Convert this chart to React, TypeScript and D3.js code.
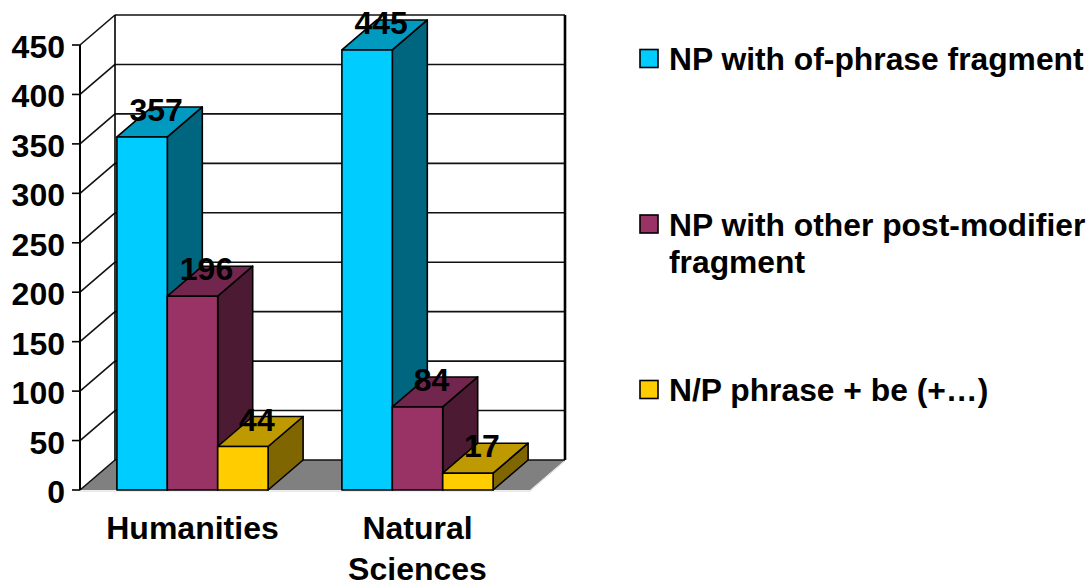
import React from "react";
import * as d3 from "d3";

// Categories and their wrapped axis labels
const categories = ["Humanities", "Natural Sciences"];
const categoryLines = [["Humanities"], ["Natural", "Sciences"]];

// Series
const seriesNames = [
  "NP with of-phrase fragment",
  "NP with other post-modifier fragment",
  "N/P phrase + be (+…)",
];
const legendLines = [
  ["NP with of-phrase fragment"],
  ["NP with other post-modifier", "fragment"],
  ["N/P phrase + be (+…)"],
];

// Values per category
const ofPhraseValues = [357, 445];
const otherPostModValues = [196, 84];
const npBeValues = [44, 17];

const yTicks = [0, 50, 100, 150, 200, 250, 300, 350, 400, 450];

const seriesValues = [ofPhraseValues, otherPostModValues, npBeValues];

// Face shading: front, top, side
const palette = [
  { front: "#00CCFF", top: "#0099BF", side: "#006680" },
  { front: "#993366", top: "#73264D", side: "#4D1A33" },
  { front: "#FFCC00", top: "#BF9900", side: "#806600" },
];

const FONT = "Arial, 'Liberation Sans', sans-serif";

export default function App() {
  const width = 1091;
  const height = 588;

  // 3D depth offset
  const dx = 35;
  const dy = -30;

  const y = d3.scaleLinear().domain([0, 450]).range([490, 45]);
  const x0 = d3.scaleBand<string>().domain(categories).range([80, 530]);
  const groupW = x0.bandwidth() * 0.672;
  const x1 = d3.scaleBand<string>().domain(seriesNames).range([0, groupW]);
  const groupOffset = (x0.bandwidth() - groupW) / 2;

  const frontLeft = x0.range()[0];
  const frontRight = x0.range()[1];
  const base = y(0);
  const top = y(450);

  const bars: React.ReactNode[] = [];
  const labels: React.ReactNode[] = [];

  categories.forEach((cat, ci) => {
    seriesNames.forEach((s, si) => {
      const v = seriesValues[si][ci];
      const bx = (x0(cat) as number) + groupOffset + (x1(s) as number);
      const w = x1.bandwidth();
      const yt = y(v);
      const c = palette[si];
      const topPts = [
        [bx, yt],
        [bx + w, yt],
        [bx + w + dx, yt + dy],
        [bx + dx, yt + dy],
      ];
      const sidePts = [
        [bx + w, yt],
        [bx + w + dx, yt + dy],
        [bx + w + dx, base + dy],
        [bx + w, base],
      ];
      bars.push(
        <g key={`bar-${ci}-${si}`} stroke="#000" strokeWidth={1.6} strokeLinejoin="round">
          <polygon points={sidePts.map((p) => p.join(",")).join(" ")} fill={c.side} />
          <polygon points={topPts.map((p) => p.join(",")).join(" ")} fill={c.top} />
          <rect x={bx} y={yt} width={w} height={base - yt} fill={c.front} />
        </g>
      );
      labels.push(
        <text
          key={`lab-${ci}-${si}`}
          x={bx + w / 2 + dx * 0.4}
          y={yt + dy * 0.53}
          textAnchor="middle"
          fontFamily={FONT}
          fontWeight="bold"
          fontSize={32}
          fill="#000"
        >
          {v}
        </text>
      );
    });
  });

  const legendTop = 58.5;
  const legendStep = 165.5;

  return (
    <svg
      width={width}
      height={height}
      style={{ position: "absolute", left: 0, top: 0, background: "#fff" }}
    >
      {/* back wall */}
      <rect
        x={frontLeft + dx}
        y={top + dy}
        width={frontRight - frontLeft}
        height={base - top}
        fill="#fff"
      />
      {/* floor */}
      <polygon
        points={[
          [frontLeft, base],
          [frontRight, base],
          [frontRight + dx, base + dy],
          [frontLeft + dx, base + dy],
        ]
          .map((p) => p.join(","))
          .join(" ")}
        fill="#808080"
      />
      <polyline
        points={[
          [frontLeft, base + 1],
          [frontRight, base + 1],
          [frontRight + dx, base + dy + 1],
        ]
          .map((p) => p.join(","))
          .join(" ")}
        fill="none"
        stroke="#d8d8d8"
        strokeWidth={1}
      />
      {/* back wall gridlines */}
      {yTicks.map((t) => (
        <line
          key={`g-${t}`}
          x1={frontLeft + dx}
          x2={frontRight + dx}
          y1={y(t) + dy}
          y2={y(t) + dy}
          stroke="#111"
          strokeWidth={1.6}
        />
      ))}
      {/* side wall diagonals */}
      {yTicks.map((t) => (
        <line
          key={`d-${t}`}
          x1={frontLeft}
          y1={y(t)}
          x2={frontLeft + dx}
          y2={y(t) + dy}
          stroke="#111"
          strokeWidth={1.6}
        />
      ))}
      {/* wall edges */}
      <line x1={frontLeft + dx} x2={frontLeft + dx} y1={top + dy} y2={base + dy} stroke="#000" strokeWidth={1.6} />
      <line x1={frontRight + dx} x2={frontRight + dx} y1={top + dy} y2={base + dy} stroke="#000" strokeWidth={2.6} />
      <line x1={frontLeft} x2={frontLeft} y1={top} y2={base} stroke="#000" strokeWidth={2} />

      {/* y axis ticks and labels */}
      {yTicks.map((t) => (
        <g key={`t-${t}`}>
          <line x1={frontLeft - 8} x2={frontLeft} y1={y(t)} y2={y(t)} stroke="#000" strokeWidth={1.6} />
          <text
            x={65}
            y={y(t) + 13}
            textAnchor="end"
            fontFamily={FONT}
            fontWeight="bold"
            fontSize={32}
            fill="#000"
          >
            {t}
          </text>
        </g>
      ))}

      {bars}
      {labels}

      {/* category labels */}
      {categories.map((cat, ci) => (
        <text
          key={`c-${ci}`}
          textAnchor="middle"
          fontFamily={FONT}
          fontWeight="bold"
          fontSize={32}
          fill="#000"
        >
          {categoryLines[ci].map((ln, li) => (
            <tspan
              key={li}
              x={(x0(cat) as number) + x0.bandwidth() / 2}
              y={539 + li * 41}
            >
              {ln}
            </tspan>
          ))}
        </text>
      ))}

      {/* legend */}
      {seriesNames.map((s, si) => {
        const cy = legendTop + si * legendStep;
        return (
          <g key={`lg-${si}`}>
            <rect
              x={640}
              y={cy - 9}
              width={18}
              height={18}
              fill={palette[si].front}
              stroke="#000"
              strokeWidth={1.6}
            />
            <text fontFamily={FONT} fontWeight="bold" fontSize={31.8} fill="#000">
              {legendLines[si].map((ln, li) => (
                <tspan key={li} x={669} y={cy + 11.5 + li * 37}>
                  {ln}
                </tspan>
              ))}
            </text>
          </g>
        );
      })}
    </svg>
  );
}
